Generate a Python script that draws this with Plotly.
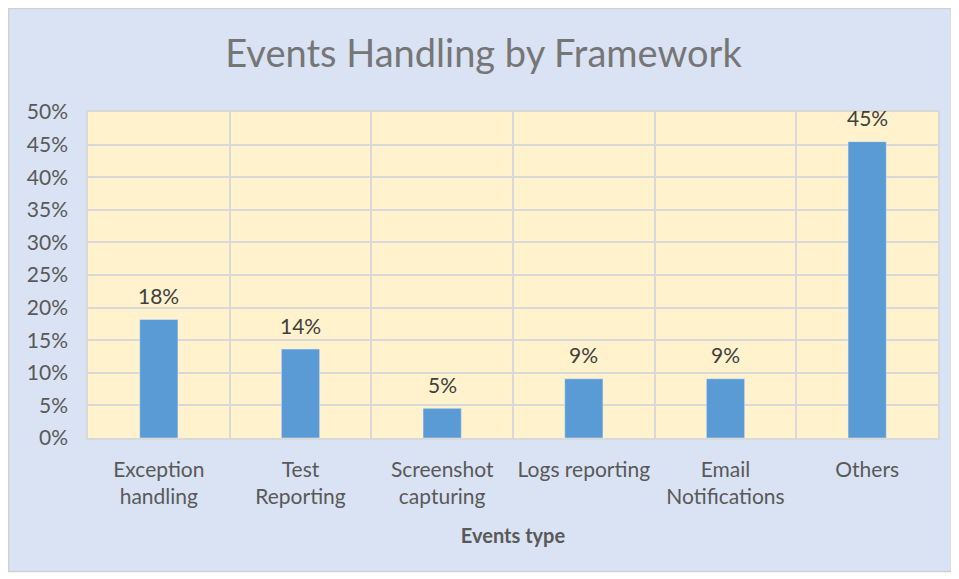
import plotly.graph_objects as go

categories = ["Exception<br>handling", "Test<br>Reporting", "Screenshot<br>capturing",
              "Logs reporting", "Email<br>Notifications", "Others"]
shares = [0.1818, 0.1364, 0.0455, 0.0909, 0.0909, 0.4545]
y_ticks = [0, 0.05, 0.10, 0.15, 0.20, 0.25, 0.30, 0.35, 0.40, 0.45, 0.50]

# page has an 8px body margin, so the figure is shrunk and shifted to compensate
OFF = 8
W, H = 959 - OFF, 579 - OFF
L, R, T, B = 88 - OFF, 21, 112 - OFF, 141
pw, ph = W - L - R, H - T - B

def px_x(px):
    # page pixel -> paper x
    return (px - OFF - L) / pw

def px_y(py):
    # page pixel -> paper y
    return (H - B - (py - OFF)) / ph

FONT = "Lato"

fig = go.Figure()
fig.add_trace(go.Bar(
    x=categories, y=shares,
    marker=dict(color="#5b9bd5"),
    cliponaxis=False,
))

for c, v in zip(categories, shares):
    fig.add_annotation(x=c, y=v, text=f"{v:.0%}", showarrow=False,
                       yanchor="middle", yshift=24,
                       font=dict(family=FONT, size=21, color="#404040"))

# white strip on right/bottom, grey frame around the chart
fig.add_shape(type="rect", xref="paper", yref="paper",
              x0=px_x(-40), x1=px_x(959), y0=px_y(579), y1=px_y(-40),
              line=dict(color="white", width=14), fillcolor="rgba(0,0,0,0)", layer="above")
fig.add_shape(type="rect", xref="paper", yref="paper",
              x0=px_x(8.5), x1=px_x(951.5), y0=px_y(571.5), y1=px_y(8.5),
              line=dict(color="#d0d0d0", width=1.5), fillcolor="rgba(0,0,0,0)", layer="above")

fig.update_layout(
    width=W, height=H,
    margin=dict(l=L, r=R, t=T, b=B),
    paper_bgcolor="#dae3f3",
    plot_bgcolor="#fff2cc",
    bargap=0.73,
    showlegend=False,
    title=dict(text="Events Handling by Framework", x=0.5, xanchor="center",
               y=1 - (54 - OFF) / H, yref="container", yanchor="middle",
               font=dict(family=FONT, size=38, color="#767676")),
    font=dict(family=FONT, color="#595959"),
)

fig.update_xaxes(
    type="category", tickson="boundaries",
    showgrid=True, gridcolor="#d9d9d9", gridwidth=1.5,
    showline=True, mirror=True, linecolor="#d9d9d9", linewidth=1.5,
    ticks="", ticklabelstandoff=12,
    tickfont=dict(family=FONT, size=21, color="#595959"),
    title=dict(text="<b>Events type</b>", font=dict(family=FONT, size=20, color="#595959"), standoff=22),
)
fig.update_yaxes(
    range=[0, 0.5], tickvals=y_ticks, tickformat=".0%",
    showgrid=True, gridcolor="#d9d9d9", gridwidth=1.5,
    showline=True, mirror=True, linecolor="#d9d9d9", linewidth=1.5,
    zeroline=False,
    ticks="outside", ticklen=14, tickcolor="rgba(0,0,0,0)",
    tickfont=dict(family=FONT, size=21, color="#595959"),
)

fig.write_html("out.html")
